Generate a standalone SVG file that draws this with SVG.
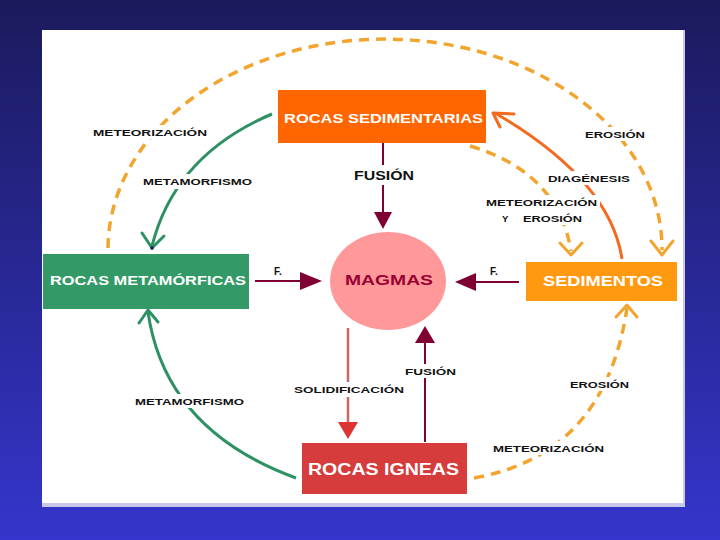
<svg xmlns="http://www.w3.org/2000/svg" width="720" height="540" viewBox="0 0 720 540">
<defs>
<linearGradient id="bg" x1="0" y1="0" x2="0" y2="1">
<stop offset="0" stop-color="#1b1a5c"/>
<stop offset="1" stop-color="#3535cc"/>
</linearGradient>
</defs>
<style>
.box{font-family:"Liberation Sans",Arial,sans-serif;font-weight:bold;fill:#ffffff;}
.lbl{font-family:"Liberation Sans",Arial,sans-serif;font-weight:bold;font-size:9.5px;fill:#111111;}
.mask{fill:#ffffff;}
.dash{fill:none;stroke:#f2a52e;stroke-width:3.5;stroke-dasharray:10 7;}
.chev{fill:none;stroke-width:3;stroke-linecap:round;stroke-linejoin:round;}
.green{fill:none;stroke:#2f9163;stroke-width:3;}
.dred{stroke:#800033;stroke-width:2;fill:none;}
</style>
<rect width="720" height="540" fill="url(#bg)"/>
<rect x="42" y="30" width="643" height="477" fill="#c8c8ec"/>
<rect x="42" y="30" width="641" height="473" fill="#ffffff"/>

<g id="connectors">
  <!-- big dashed arc: metamorficas -> sedimentos -->
  <path class="dash" d="M108,248 A277,210 0 0 1 662,250"/>
  <polyline class="chev" stroke="#f2a52e" points="651,241 662,255 673,241"/>
  <!-- meteorizacion y erosion: sedimentarias -> sedimentos -->
  <path class="dash" d="M470,146 Q558,172 571,251"/>
  <polyline class="chev" stroke="#f2a52e" points="560,243 571,255 582,243"/>
  <!-- bottom dashed: igneas -> sedimentos -->
  <path class="dash" d="M474,478 Q605,455 627,308"/>
  <polyline class="chev" stroke="#f2a52e" points="616,317 627,305 637,317"/>
  <!-- diagenesis -->
  <path fill="none" stroke="#f26b21" stroke-width="3" d="M622,259 Q610,180 495,113"/>
  <polyline class="chev" stroke="#f26b21" points="514,114 493,113 500,127"/>
  <!-- green metamorfismo top -->
  <path class="green" d="M272,114 Q175,155 152,246"/>
  <polyline class="chev" stroke="#2f9163" points="142,233 152,248 164,236"/>
  <circle cx="152" cy="248" r="1.8" fill="#1b1a5c"/>
  <!-- green metamorfismo bottom -->
  <path class="green" d="M296,478 Q165,430 148,312"/>
  <polyline class="chev" stroke="#2f9163" points="139,323 148,310 158,322"/>
  <!-- fusion top -->
  <line class="dred" x1="383" y1="143" x2="383" y2="213"/>
  <polygon fill="#800033" points="374,212 392,212 383,229"/>
  <!-- F. left -->
  <line class="dred" x1="255" y1="281" x2="301" y2="281"/>
  <polygon fill="#800033" points="300,272 300,290 322,281"/>
  <!-- F. right -->
  <line class="dred" x1="519" y1="282" x2="474" y2="282"/>
  <polygon fill="#800033" points="476,273 476,291 455,282"/>
  <!-- solidificacion -->
  <line stroke="#cc6666" stroke-width="2.5" x1="348" y1="328" x2="348" y2="423"/>
  <polygon fill="#dd3333" points="338,422 358,422 348,439"/>
  <!-- fusion bottom -->
  <line class="dred" x1="425" y1="442" x2="425" y2="342"/>
  <polygon fill="#800033" points="415,343 435,343 425,326"/>
</g>

<g id="labels">
  <rect class="mask" x="90" y="125" width="120" height="14"/>
  <text class="lbl" x="93" y="136" textLength="114" lengthAdjust="spacingAndGlyphs">METEORIZACIÓN</text>
  <rect class="mask" x="140" y="174" width="115" height="15"/>
  <text class="lbl" x="143" y="185" textLength="109" lengthAdjust="spacingAndGlyphs">METAMORFISMO</text>
  <rect class="mask" x="582" y="127" width="66" height="14"/>
  <text class="lbl" x="585" y="138" textLength="60" lengthAdjust="spacingAndGlyphs">EROSIÓN</text>
  <rect class="mask" x="545" y="171" width="88" height="14"/>
  <text class="lbl" x="548" y="182" textLength="82" lengthAdjust="spacingAndGlyphs">DIAGÉNESIS</text>
  <rect class="mask" x="483" y="195" width="117" height="30"/>
  <text class="lbl" x="486" y="206" textLength="111" lengthAdjust="spacingAndGlyphs">METEORIZACIÓN</text>
  <text class="lbl" x="502" y="222">Y</text>
  <text class="lbl" x="523" y="222" textLength="59" lengthAdjust="spacingAndGlyphs">EROSIÓN</text>
  <rect class="mask" x="350" y="165" width="68" height="20"/>
  <text class="lbl" x="354" y="180" style="font-size:12px" textLength="60" lengthAdjust="spacingAndGlyphs">FUSIÓN</text>
  <rect class="mask" x="132" y="394" width="115" height="14"/>
  <text class="lbl" x="135" y="405" textLength="109" lengthAdjust="spacingAndGlyphs">METAMORFISMO</text>
  <rect class="mask" x="291" y="382" width="116" height="15"/>
  <text class="lbl" x="294" y="393" textLength="110" lengthAdjust="spacingAndGlyphs">SOLIDIFICACIÓN</text>
  <rect class="mask" x="402" y="364" width="57" height="14"/>
  <text class="lbl" x="405" y="375" textLength="51" lengthAdjust="spacingAndGlyphs">FUSIÓN</text>
  <rect class="mask" x="567" y="377" width="65" height="14"/>
  <text class="lbl" x="570" y="388" textLength="59" lengthAdjust="spacingAndGlyphs">EROSIÓN</text>
  <rect class="mask" x="490" y="441" width="117" height="14"/>
  <text class="lbl" x="493" y="452" textLength="111" lengthAdjust="spacingAndGlyphs">METEORIZACIÓN</text>
  <text class="lbl" x="274" y="275" style="font-size:10px">F.</text>
  <text class="lbl" x="490" y="275" style="font-size:10px">F.</text>
</g>

<g id="rocas-sedimentarias">
  <rect x="278" y="90" width="208" height="53" fill="#ff6600"/>
  <text class="box" x="284" y="123" font-size="13.5" textLength="199" lengthAdjust="spacingAndGlyphs">ROCAS SEDIMENTARIAS</text>
</g>
<g id="rocas-metamorficas">
  <rect x="43" y="254" width="206" height="55" fill="#339966"/>
  <text class="box" x="50" y="285" font-size="13.5" textLength="196" lengthAdjust="spacingAndGlyphs">ROCAS METAMÓRFICAS</text>
</g>
<g id="magmas">
  <ellipse cx="388" cy="281" rx="58" ry="49" fill="#ff9999"/>
  <text x="345" y="285" font-family="Liberation Sans, Arial, sans-serif" font-weight="bold" font-size="15" fill="#990033" textLength="88" lengthAdjust="spacingAndGlyphs">MAGMAS</text>
</g>
<g id="sedimentos">
  <rect x="526" y="262" width="151" height="39" fill="#ff9a10"/>
  <text class="box" x="543" y="286" font-size="14.5" textLength="120" lengthAdjust="spacingAndGlyphs">SEDIMENTOS</text>
</g>
<g id="rocas-igneas">
  <rect x="302" y="443" width="165" height="51" fill="#d63c3c"/>
  <text class="box" x="308" y="475" font-size="16" textLength="151" lengthAdjust="spacingAndGlyphs">ROCAS IGNEAS</text>
</g>
</svg>
